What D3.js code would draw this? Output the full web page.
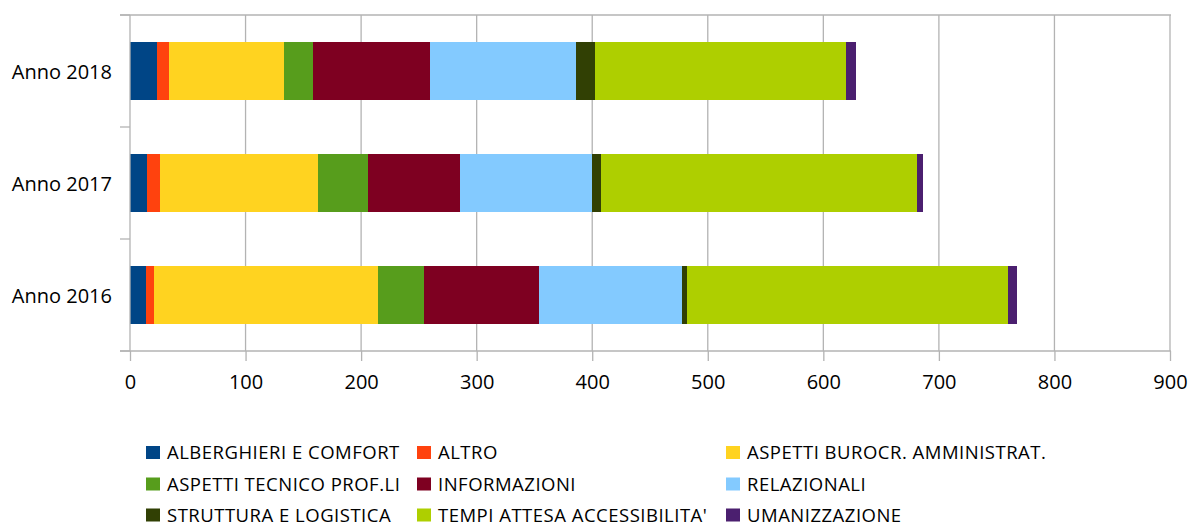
<!DOCTYPE html>
<html>
<head>
<meta charset="utf-8">
<script src="https://cdn.jsdelivr.net/npm/d3@7"></script>
<style>
  html, body { margin: 0; padding: 0; background: #ffffff; }
  svg { display: block; font-family: "Open Sans", "Noto Sans", sans-serif; }
</style>
</head>
<body>
<svg id="chart" width="1192" height="527"></svg>
<script>
// ---- data ----
const categories = ["Anno 2018", "Anno 2017", "Anno 2016"];
const seriesNames = [
  "ALBERGHIERI E COMFORT",
  "ALTRO",
  "ASPETTI BUROCR. AMMINISTRAT.",
  "ASPETTI TECNICO PROF.LI",
  "INFORMAZIONI",
  "RELAZIONALI",
  "STRUTTURA E LOGISTICA",
  "TEMPI ATTESA ACCESSIBILITA'",
  "UMANIZZAZIONE"
];
const alberghieri = [23, 15, 14];
const altro       = [11, 11, 7];
const burocr      = [99, 137, 194];
const tecnico     = [25, 43, 39];
const informazioni= [102, 80, 100];
const relazionali = [126, 114, 124];
const struttura   = [16, 8, 4];
const tempi       = [218, 273, 278];
const umanizz     = [8, 5, 8];
const xTicks = [0, 100, 200, 300, 400, 500, 600, 700, 800, 900];
const colors = ["#004586", "#ff420e", "#ffd320", "#579d1c", "#7e0021",
                "#83caff", "#314004", "#aecf00", "#4b1f6f"];

const seriesValues = [alberghieri, altro, burocr, tecnico, informazioni,
                      relazionali, struttura, tempi, umanizz];
const table = categories.map((c, i) => {
  const row = { cat: c };
  seriesNames.forEach((s, j) => { row[s] = seriesValues[j][i]; });
  return row;
});

// ---- layout ----
(function draw() {
const svg = d3.select("#chart");
const pLeft = 130, pRight = 1170, pTop = 15, pBottom = 351;
const gridColor = "#b3b3b3";

const x = d3.scaleLinear().domain([0, 900]).range([pLeft, pRight]);
const y = d3.scaleBand().domain(categories).range([pTop, pBottom])
  .paddingInner(0.49).paddingOuter(0.245);

// vertical grid lines
svg.append("g").selectAll("line").data(xTicks.filter(d => d > 0)).join("line")
  .attr("x1", d => x(d)).attr("x2", d => x(d))
  .attr("y1", pTop).attr("y2", pBottom)
  .attr("stroke", gridColor).attr("stroke-width", 1.3);

// top border line
svg.append("line").attr("x1", pLeft - 10).attr("x2", pRight + 1)
  .attr("y1", pTop).attr("y2", pTop)
  .attr("stroke", gridColor).attr("stroke-width", 1.3);

// stacked bars
const stack = d3.stack().keys(seriesNames)(table);
svg.append("g").selectAll("g").data(stack).join("g")
  .attr("fill", (d, i) => colors[i])
  .selectAll("rect").data(d => d).join("rect")
  .attr("x", d => x(d[0]))
  .attr("width", d => x(d[1]) - x(d[0]))
  .attr("y", d => y(d.data.cat))
  .attr("height", y.bandwidth())
  .attr("shape-rendering", "crispEdges");

// x axis
const xAxis = d3.axisBottom(x).tickValues(xTicks).tickSize(10)
  .tickSizeOuter(0).tickPadding(14);
const gx = svg.append("g").attr("transform", `translate(0,${pBottom})`).call(xAxis);
gx.select(".domain").remove();
gx.selectAll(".tick line").attr("stroke", gridColor).attr("stroke-width", 1.3);
gx.selectAll(".tick text").attr("font-size", 20).attr("fill", "#000")
  .attr("font-family", '"Open Sans", sans-serif');
svg.append("line").attr("x1", pLeft - 10).attr("x2", pRight + 1)
  .attr("y1", pBottom).attr("y2", pBottom)
  .attr("stroke", gridColor).attr("stroke-width", 1.3);

// y axis
svg.append("line").attr("x1", pLeft).attr("x2", pLeft)
  .attr("y1", pTop).attr("y2", pBottom)
  .attr("stroke", gridColor).attr("stroke-width", 1.3);
const boundaries = d3.range(categories.length + 1).map(i => pTop + i * y.step());
svg.append("g").selectAll("line").data(boundaries).join("line")
  .attr("x1", pLeft - 10).attr("x2", pLeft)
  .attr("y1", d => d).attr("y2", d => d)
  .attr("stroke", gridColor).attr("stroke-width", 1.3);
svg.append("g").selectAll("text").data(categories).join("text")
  .attr("x", pLeft - 18)
  .attr("y", d => y(d) + y.bandwidth() / 2 + 8)
  .attr("text-anchor", "end")
  .attr("font-size", 20)
  .attr("fill", "#000")
  .text(d => d);

// legend
const colX = [146, 417, 726];
const rowY = [452.5, 484, 515];
const legend = svg.append("g");
seriesNames.forEach((s, i) => {
  const cx = colX[i % 3], cy = rowY[Math.floor(i / 3)];
  legend.append("rect").attr("x", cx).attr("y", cy - 6.5)
    .attr("width", 14).attr("height", 13).attr("fill", colors[i]);
  legend.append("text").attr("x", cx + 21).attr("y", cy + 6.5)
    .attr("font-size", 18.5).attr("letter-spacing", 0.5)
    .attr("fill", "#000").text(s);
});
})();
</script>
</body>
</html>
